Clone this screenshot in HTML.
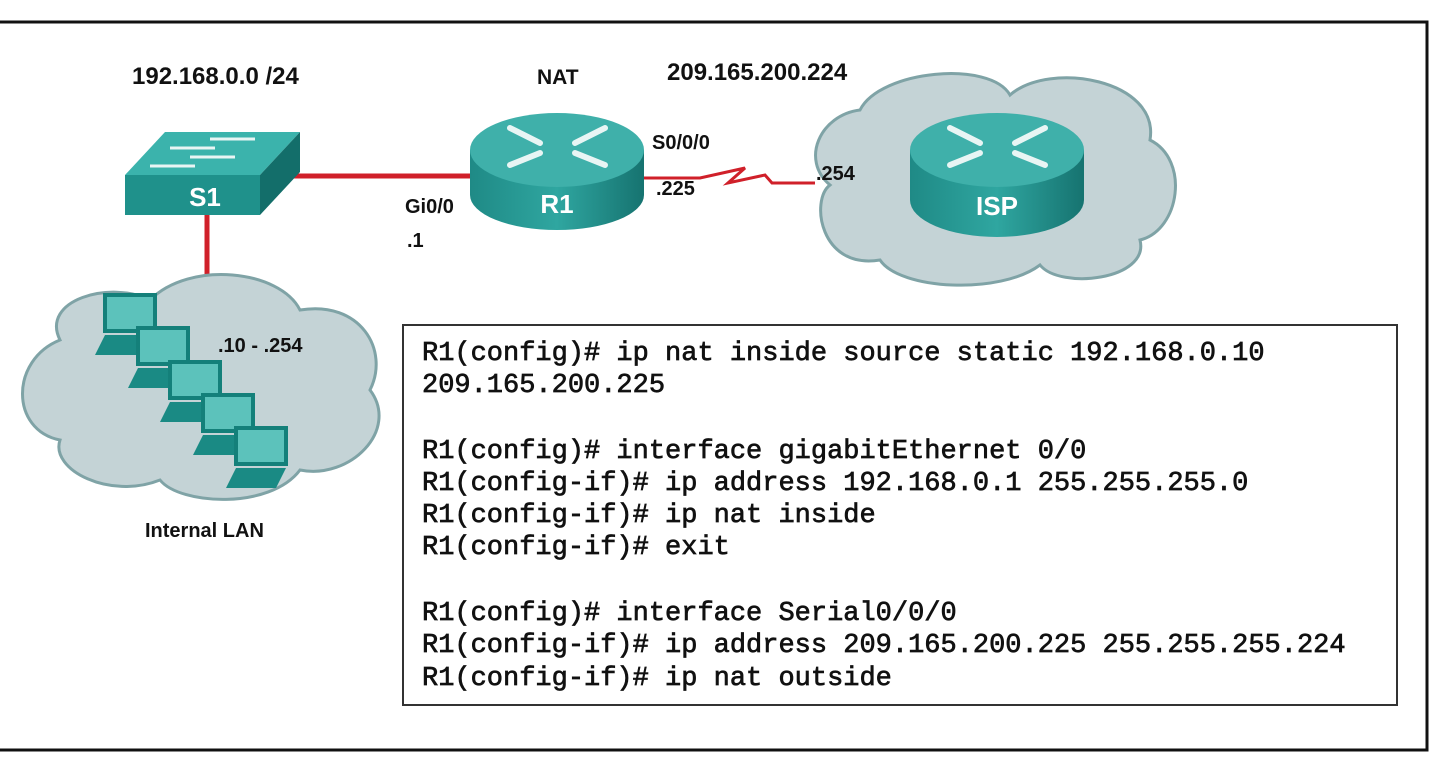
<!DOCTYPE html>
<html><head><meta charset="utf-8"><style>
body{margin:0;background:#fff;width:1440px;height:768px;overflow:hidden}
svg{display:block}
.l{font-family:"Liberation Sans",sans-serif;font-weight:bold;fill:#111}
.c{font-family:"Liberation Mono",monospace;font-weight:normal;font-size:27px;fill:#111;stroke:#111;stroke-width:0.7}
</style></head><body>
<svg width="1440" height="768" viewBox="0 0 1440 768">
<defs>
<linearGradient id="tg" x1="0" x2="1"><stop offset="0" stop-color="#1f8a86"/><stop offset=".5" stop-color="#2fa6a0"/><stop offset="1" stop-color="#167370"/></linearGradient>
</defs>
<rect x="-5" y="22" width="1432" height="728" fill="none" stroke="#111" stroke-width="3"/>
<line x1="290" y1="176" x2="480" y2="176" stroke="#d0202a" stroke-width="5"/>
<line x1="207" y1="210" x2="207" y2="282" stroke="#d0202a" stroke-width="5"/>
<polyline points="630,178 700,178 745,168 728,183 765,175 772,183 815,183" fill="none" stroke="#d0202a" stroke-width="3"/>
<path d="M60,340 C40,300 110,280 150,300 C190,260 280,270 300,310 C360,300 390,350 370,390 C400,430 350,480 300,470 C270,510 180,505 160,480 C110,500 50,470 60,440 C10,430 10,360 60,340Z" fill="#c4d3d6" stroke="#7fa3a6" stroke-width="3"/>
<path d="M860,110 C880,70 990,60 1010,95 C1050,60 1160,80 1150,140 C1190,160 1180,230 1140,240 C1150,280 1060,290 1040,265 C1000,295 900,290 880,260 C820,270 810,200 830,185 C800,160 820,115 860,110Z" fill="#c4d3d6" stroke="#7fa3a6" stroke-width="3"/>
<polygon points="125,175 165,132 300,132 260,175" fill="#3bb3ac"/>
<polygon points="260,175 300,132 300,172 260,215" fill="#136e6a"/>
<rect x="125" y="175" width="135" height="40" fill="#1f918b"/>
<g stroke="#e8f5f4" stroke-width="3"><line x1="210" y1="139" x2="255" y2="139"/><line x1="170" y1="148" x2="215" y2="148"/><line x1="190" y1="157" x2="235" y2="157"/><line x1="150" y1="166" x2="195" y2="166"/></g>
<text x="205" y="206" class="l" font-size="26" style="fill:#fff" text-anchor="middle">S1</text>
<g>
<path d="M470,150 L470,195 A87,35 0 0 0 644,195 L644,150Z" fill="url(#tg)"/>
<ellipse cx="557" cy="150" rx="87" ry="37" fill="#3fb0aa"/>
<g stroke="#e8f5f4" stroke-width="6" stroke-linecap="round"><line x1="510" y1="128" x2="540" y2="143"/><line x1="575" y1="143" x2="605" y2="128"/><line x1="510" y1="165" x2="540" y2="153"/><line x1="575" y1="153" x2="605" y2="165"/></g>
<text x="557" y="213" class="l" font-size="26" style="fill:#fff" text-anchor="middle">R1</text>
</g>
<g>
<path d="M910,150 L910,200 A87,37 0 0 0 1084,200 L1084,150Z" fill="url(#tg)"/>
<ellipse cx="997" cy="150" rx="87" ry="37" fill="#3fb0aa"/>
<g stroke="#e8f5f4" stroke-width="6" stroke-linecap="round"><line x1="950" y1="128" x2="980" y2="143"/><line x1="1015" y1="143" x2="1045" y2="128"/><line x1="950" y1="165" x2="980" y2="153"/><line x1="1015" y1="153" x2="1045" y2="165"/></g>
<text x="997" y="215" class="l" font-size="26" style="fill:#fff" text-anchor="middle">ISP</text>
</g>
<g>
<g transform="translate(95,295)"><rect x="10" y="0" width="50" height="36" fill="#5cc2bb" stroke="#14807a" stroke-width="4"/><polygon points="0,60 10,40 60,40 50,60" fill="#1a8a84"/></g>
<g transform="translate(128,328)"><rect x="10" y="0" width="50" height="36" fill="#5cc2bb" stroke="#14807a" stroke-width="4"/><polygon points="0,60 10,40 60,40 50,60" fill="#1a8a84"/></g>
<g transform="translate(160,362)"><rect x="10" y="0" width="50" height="36" fill="#5cc2bb" stroke="#14807a" stroke-width="4"/><polygon points="0,60 10,40 60,40 50,60" fill="#1a8a84"/></g>
<g transform="translate(193,395)"><rect x="10" y="0" width="50" height="36" fill="#5cc2bb" stroke="#14807a" stroke-width="4"/><polygon points="0,60 10,40 60,40 50,60" fill="#1a8a84"/></g>
<g transform="translate(226,428)"><rect x="10" y="0" width="50" height="36" fill="#5cc2bb" stroke="#14807a" stroke-width="4"/><polygon points="0,60 10,40 60,40 50,60" fill="#1a8a84"/></g>
</g>
<text x="132" y="84" class="l" font-size="24">192.168.0.0 /24</text>
<text x="537" y="84" class="l" font-size="21">NAT</text>
<text x="667" y="80" class="l" font-size="24">209.165.200.224</text>
<text x="652" y="149" class="l" font-size="20">S0/0/0</text>
<text x="656" y="195" class="l" font-size="20">.225</text>
<text x="816" y="180" class="l" font-size="20">.254</text>
<text x="405" y="213" class="l" font-size="20">Gi0/0</text>
<text x="407" y="247" class="l" font-size="20">.1</text>
<text x="218" y="352" class="l" font-size="20">.10 - .254</text>
<text x="145" y="537" class="l" font-size="20">Internal LAN</text>
<rect x="403" y="325" width="994" height="380" fill="#fff" stroke="#333" stroke-width="2"/>
<g class="c">
<text x="422" y="360">R1(config)# ip nat inside source static 192.168.0.10</text>
<text x="422" y="392">209.165.200.225</text>
<text x="422" y="458">R1(config)# interface gigabitEthernet 0/0</text>
<text x="422" y="490">R1(config-if)# ip address 192.168.0.1 255.255.255.0</text>
<text x="422" y="522">R1(config-if)# ip nat inside</text>
<text x="422" y="554">R1(config-if)# exit</text>
<text x="422" y="620">R1(config)# interface Serial0/0/0</text>
<text x="422" y="652">R1(config-if)# ip address 209.165.200.225 255.255.255.224</text>
<text x="422" y="685">R1(config-if)# ip nat outside</text>
</g>
</svg>
</body></html>
